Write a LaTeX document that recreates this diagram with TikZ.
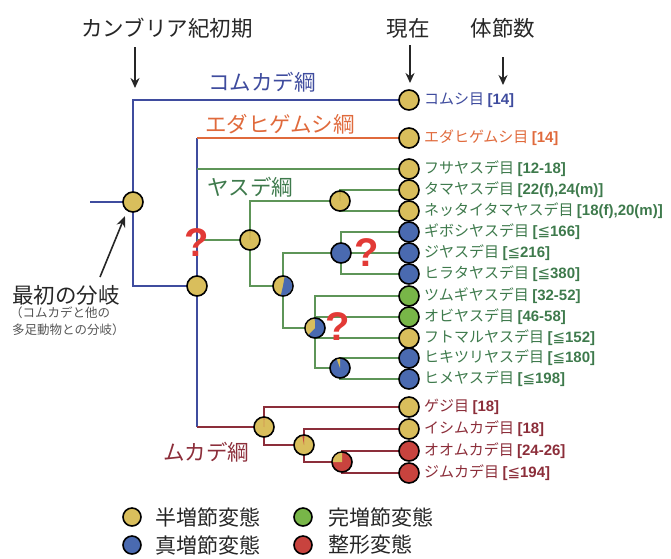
\documentclass[tikz,border=0pt]{standalone}
\usepackage{fontspec}
\setmainfont{Noto Sans CJK JP}
\newfontfamily\numf{Liberation Sans}
\newfontfamily\symf{DejaVu Sans}
\usetikzlibrary{arrows.meta}
\definecolor{cblue}{HTML}{3F4C9E}
\definecolor{corange}{HTML}{E06A3C}
\definecolor{cgreenl}{HTML}{5E9558}
\definecolor{cgreent}{HTML}{3E7A4C}
\definecolor{cmaroon}{HTML}{8C2E3A}
\definecolor{fy}{HTML}{D9BE5C}
\definecolor{fb}{HTML}{4A6AB0}
\definecolor{fg}{HTML}{78B648}
\definecolor{fr}{HTML}{C8433E}
\definecolor{qred}{HTML}{E23A36}
\definecolor{tdark}{HTML}{262626}
\definecolor{tgray}{HTML}{555555}
\definecolor{olivel}{HTML}{8A7A30}
\newcommand{\nb}[1]{{\numf\bfseries #1}}
\newcommand{\lebr}[1]{\nb{[}{\symf ≦}\nb{#1]}}
\newcommand{\wedgeon}[4]{\fill[#2] (#1.center) -- ++(#3:9.2pt) arc[start angle=#3, end angle=#4, radius=9.2pt] -- cycle;}
\pgfdeclarelayer{bg}
\pgfsetlayers{bg,main}
\begin{document}
\begin{tikzpicture}[x=1pt,y=-1pt,
  pn/.style={circle, draw=black, line width=1.6pt, minimum size=20pt, inner sep=0pt},
  lab/.style={anchor=west, inner sep=0pt, font=\fontsize{15}{18}\selectfont},
  cls/.style={anchor=west, inner sep=0pt, font=\fontsize{21.5}{25}\selectfont},
  hdr/.style={inner sep=0pt, text=tdark, font=\fontsize{21.5}{25}\selectfont},
  arr/.style={-{Stealth[length=10pt,width=9pt]}, line width=1.6pt, draw=tdark},
  qm/.style={inner sep=0pt, text=qred, font={\numf\bfseries\fontsize{40}{44}\selectfont}},
  bl/.style={draw=cblue, line width=2.2pt},
  ol/.style={draw=corange, line width=2.2pt},
  gl/.style={draw=cgreenl, line width=2.2pt},
  ml/.style={draw=cmaroon, line width=2.2pt},
  leg/.style={anchor=west, inner sep=0pt, text=tdark, font=\fontsize{21}{25}\selectfont}]
\useasboundingbox (0,0) rectangle (671,558);

% headers
\node[hdr] (hcam) at (167,28) {カンブリア紀初期};
\node[hdr] (hnow) at (408,28) {現在};
\node[hdr] (hseg) at (503,28) {体節数};
\coordinate (a1s) at (135,47); \coordinate (a1e) at (135,88);
\coordinate (a2s) at (410,45); \coordinate (a2e) at (410,83);
\coordinate (a3s) at (503,57); \coordinate (a3e) at (503,85);
\draw[arr] (a1s) -- (a1e);
\draw[arr] (a2s) -- (a2e);
\draw[arr] (a3s) -- (a3e);

% class labels
\node[cls, text=cblue] (c1) at (208,82) {コムカデ綱};
\node[cls, text=corange] (c2) at (205,124) {エダヒゲムシ綱};
\node[cls, text=cgreent] (c3) at (207,187) {ヤスデ綱};
\node[cls, text=cmaroon] (c4) at (163,452) {ムカデ綱};

% internal nodes
\node[pn, fill=fy] (R) at (133,202) {};
\node[pn, fill=fy] (N2) at (197,286) {};
\node[pn, fill=fy] (A) at (250,240) {};
\node[pn, fill=fy] (B) at (340,201) {};
\node[pn, fill=fy] (C) at (283,286) {};
\node[pn, fill=fb] (D) at (341,253) {};
\node[pn, fill=fb] (E) at (315,328) {};
\node[pn, fill=fb] (F) at (340,368) {};
\node[pn, fill=fy] (G) at (264,427) {};
\node[pn, fill=fy] (H) at (304,445) {};
\node[pn, fill=fr] (I) at (342,462) {};
\wedgeon{A}{olivel}{88}{92}
\wedgeon{B}{olivel}{88}{92}
\wedgeon{C}{fb}{80}{-103}
\wedgeon{E}{fy}{92}{225}
\wedgeon{F}{fy}{90}{110}
\wedgeon{G}{fr}{88}{92}
\wedgeon{H}{fr}{88}{100}
\wedgeon{I}{fy}{90}{180}

% leaves
\node[pn, fill=fy] (l1) at (409,100) {};
\node[pn, fill=fy] (l2) at (409,138) {};
\node[pn, fill=fy] (l3) at (409,169) {};
\node[pn, fill=fy] (l4) at (409,190) {};
\node[pn, fill=fy] (l5) at (409,211) {};
\node[pn, fill=fb] (l6) at (409,232) {};
\node[pn, fill=fb] (l7) at (409,253) {};
\node[pn, fill=fb] (l8) at (409,274) {};
\node[pn, fill=fg] (l9) at (409,296) {};
\node[pn, fill=fg] (l10) at (409,317) {};
\node[pn, fill=fy] (l11) at (409,338) {};
\node[pn, fill=fb] (l12) at (409,358) {};
\node[pn, fill=fb] (l13) at (409,379) {};
\node[pn, fill=fy] (l14) at (409,407) {};
\node[pn, fill=fy] (l15) at (409,429) {};
\node[pn, fill=fr] (l16) at (409,451) {};
\node[pn, fill=fr] (l17) at (409,473) {};

% leaf labels
\node[lab, text=cblue] (t1) at (424,100) {コムシ目 \nb{[14]}};
\node[lab, text=corange] (t2) at (424,138) {エダヒゲムシ目 \nb{[14]}};
\node[lab, text=cgreent] (t3) at (424,169) {フサヤスデ目 \nb{[12-18]}};
\node[lab, text=cgreent] (t4) at (424,190) {タマヤスデ目 \nb{[22(f),24(m)]}};
\node[lab, text=cgreent] (t5) at (424,211) {ネッタイタマヤスデ目 \nb{[18(f),20(m)]}};
\node[lab, text=cgreent] (t6) at (424,232) {ギボシヤスデ目 \lebr{166}};
\node[lab, text=cgreent] (t7) at (424,253) {ジヤスデ目 \lebr{216}};
\node[lab, text=cgreent] (t8) at (424,274) {ヒラタヤスデ目 \lebr{380}};
\node[lab, text=cgreent] (t9) at (424,296) {ツムギヤスデ目 \nb{[32-52]}};
\node[lab, text=cgreent] (t10) at (424,317) {オビヤスデ目 \nb{[46-58]}};
\node[lab, text=cgreent] (t11) at (424,338) {フトマルヤスデ目 \lebr{152}};
\node[lab, text=cgreent] (t12) at (424,358) {ヒキツリヤスデ目 \lebr{180}};
\node[lab, text=cgreent] (t13) at (424,379) {ヒメヤスデ目 \lebr{198}};
\node[lab, text=cmaroon] (t14) at (424,407) {ゲジ目 \nb{[18]}};
\node[lab, text=cmaroon] (t15) at (424,429) {イシムカデ目 \nb{[18]}};
\node[lab, text=cmaroon] (t16) at (424,451) {オオムカデ目 \nb{[24-26]}};
\node[lab, text=cmaroon] (t17) at (424,473) {ジムカデ目 \lebr{194}};

% question marks
\node[qm] (q1) at (197,243) {?};
\node[qm] (q2) at (367,253) {?};
\node[qm] (q3) at (338,327) {?};

% first branching note
\node[anchor=west, inner sep=0pt, text=tdark, font=\fontsize{21.5}{25}\selectfont] (fb1) at (12,295) {最初の分岐};
\node[anchor=west, inner sep=0pt, text=tgray, font=\fontsize{12.5}{15}\selectfont] (fb2) at (10,313) {（コムカデと他の};
\node[anchor=west, inner sep=0pt, text=tgray, font=\fontsize{12.5}{15}\selectfont] (fb3) at (12,330) {多足動物との分岐）};
\coordinate (fbs) at (100,277);
\coordinate (fbe) at (125,216);
\draw[-{Stealth[length=11pt,width=9pt]}, line width=1.6pt, draw=tdark] (fbs) -- (fbe);

% legend
\node[pn, fill=fy, minimum size=18pt] (k1) at (132,517) {};
\node[leg] (k1t) at (155,517) {半増節変態};
\node[pn, fill=fg, minimum size=18pt] (k2) at (303,517) {};
\node[leg] (k2t) at (328,517) {完増節変態};
\node[pn, fill=fb, minimum size=18pt] (k3) at (132,545) {};
\node[leg] (k3t) at (155,545) {真増節変態};
\node[pn, fill=fr, minimum size=18pt] (k4) at (303,545) {};
\node[leg] (k4t) at (328,545) {整形変態};

% connectors
\coordinate (s0) at (90,202);
\coordinate (j2) at (197,138);
\coordinate (jM) at (197,427);
\begin{pgfonlayer}{bg}
\draw[bl] (s0) -- (R.center);
\draw[bl] (R.center) |- (l1.center);
\draw[bl] (R.center) |- (N2.center);
\draw[bl] (j2) -- (jM);
\draw[ol] (j2) -- (l2.center);
\draw[gl] (N2.center |- l3.center) -- (l3.center);
\draw[gl] (N2.center |- A.center) -- (A.center);
\draw[gl] (A.center) |- (B.center);
\draw[gl] (A.center) |- (C.center);
\draw[gl] (B.center) |- (l4.center);
\draw[gl] (B.center) |- (l5.center);
\draw[gl] (C.center) |- (D.center);
\draw[gl] (C.center) |- (E.center);
\draw[gl] (D.center) |- (l6.center);
\draw[gl] (D.center) |- (l7.center);
\draw[gl] (D.center) |- (l8.center);
\draw[gl] (E.center) |- (l9.center);
\draw[gl] (E.center) |- (l10.center);
\draw[gl] (E.center) |- (l11.center);
\draw[gl] (E.center) |- (F.center);
\draw[gl] (F.center) |- (l12.center);
\draw[gl] (F.center) |- (l13.center);
\draw[ml] (jM) -- (G.center);
\draw[ml] (G.center) |- (l14.center);
\draw[ml] (G.center) |- (H.center);
\draw[ml] (H.center) |- (l15.center);
\draw[ml] (H.center) |- (I.center);
\draw[ml] (I.center) |- (l16.center);
\draw[ml] (I.center) |- (l17.center);
\end{pgfonlayer}
\end{tikzpicture}
\end{document}
